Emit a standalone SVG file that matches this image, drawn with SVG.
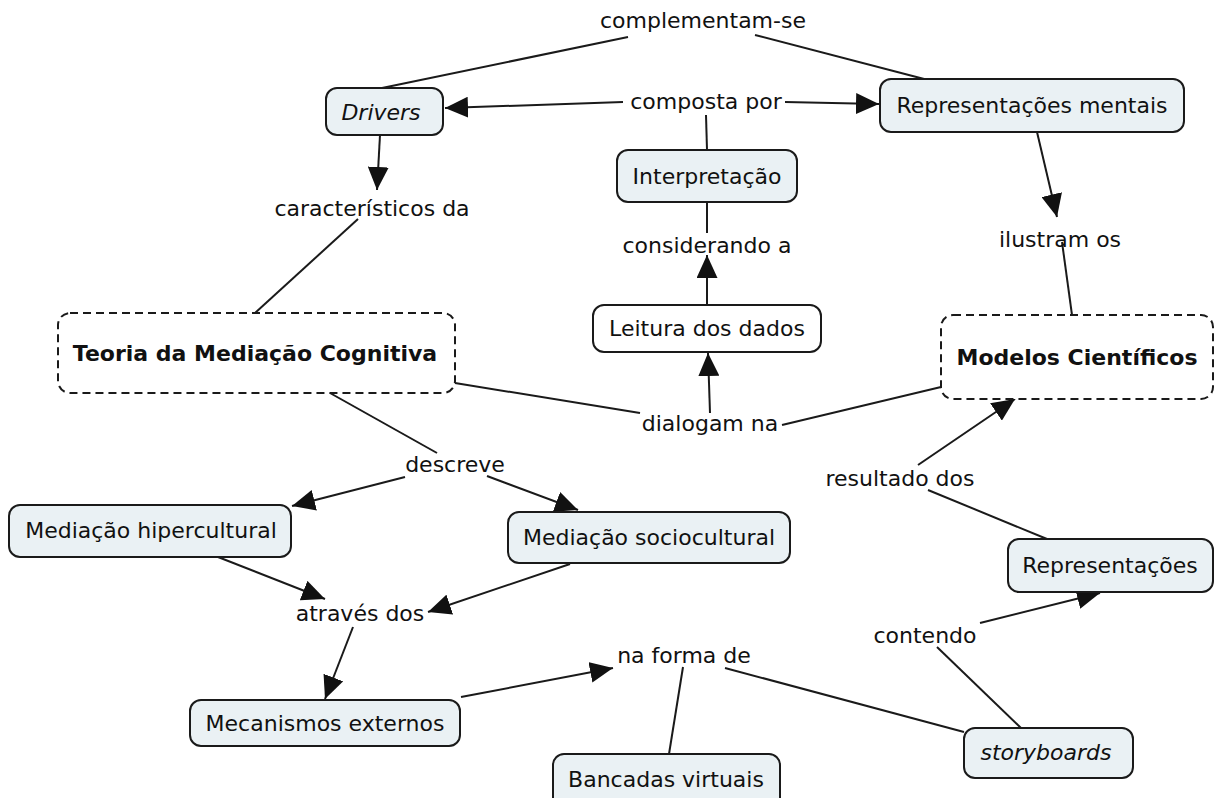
<svg xmlns="http://www.w3.org/2000/svg" width="1217" height="798" viewBox="0 0 1217 798">
  <style>
    text { font-family: "DejaVu Sans", Verdana, sans-serif; font-size: 22px; fill: #111111; text-anchor: middle; }
    .bold { font-weight: bold; font-size: 22px; }
    .it { font-style: italic; }
    .box { fill: #eaf1f4; stroke: #1a1a1a; stroke-width: 2; }
    .plain { fill: #ffffff; stroke: #1a1a1a; stroke-width: 2; }
    .dash { fill: #ffffff; stroke: #1a1a1a; stroke-width: 2; stroke-dasharray: 8 5; }
    #connectors line { stroke: #1a1a1a; stroke-width: 2; fill: none; }
    #connectors line.arr { marker-end: url(#head); }
  </style>
  <defs>
    <marker id="head" markerUnits="userSpaceOnUse" markerWidth="23" markerHeight="21" refX="23" refY="10.5" orient="auto">
      <path d="M0,0 L23,10.5 L0,21 Z" fill="#111"/>
    </marker>
  </defs>
  <rect width="1217" height="798" fill="#ffffff"/>

  <g id="connectors">
    <line x1="628" y1="37" x2="382" y2="88"/>
    <line x1="755" y1="35" x2="928" y2="80"/>
    <line class="arr" x1="623" y1="102" x2="445" y2="108"/>
    <line class="arr" x1="785" y1="102" x2="879" y2="104"/>
    <line x1="706" y1="115" x2="707" y2="150"/>
    <line class="arr" x1="380" y1="135" x2="377" y2="190"/>
    <line x1="358" y1="219" x2="255" y2="313"/>
    <line x1="707" y1="202" x2="707" y2="233"/>
    <line class="arr" x1="707" y1="305" x2="707" y2="255"/>
    <line class="arr" x1="710" y1="413" x2="708" y2="353"/>
    <line x1="455" y1="383" x2="640" y2="413"/>
    <line x1="782" y1="425" x2="941" y2="387"/>
    <line class="arr" x1="1037" y1="132" x2="1057" y2="217"/>
    <line x1="1062" y1="242" x2="1072" y2="315"/>
    <line class="arr" x1="918" y1="465" x2="1015" y2="399"/>
    <line x1="1047" y1="539" x2="928" y2="490"/>
    <line x1="330" y1="393" x2="437" y2="453"/>
    <line class="arr" x1="405" y1="477" x2="292" y2="506"/>
    <line class="arr" x1="487" y1="476" x2="578" y2="510"/>
    <line class="arr" x1="218" y1="557" x2="325" y2="599"/>
    <line class="arr" x1="570" y1="564" x2="428" y2="612"/>
    <line class="arr" x1="353" y1="627" x2="325" y2="699"/>
    <line class="arr" x1="461" y1="697" x2="613" y2="668"/>
    <line x1="683" y1="667" x2="669" y2="754"/>
    <line x1="725" y1="668" x2="964" y2="732"/>
    <line x1="1021" y1="728" x2="937" y2="647"/>
    <line class="arr" x1="980" y1="623" x2="1100" y2="593"/>
  </g>

  <g id="labels">
    <text x="703" y="28">complementam-se</text>
    <text x="706" y="109">composta por</text>
    <text x="372" y="216">característicos da</text>
    <text x="707" y="253">considerando a</text>
    <text x="1060" y="247">ilustram os</text>
    <text x="710" y="431">dialogam na</text>
    <text x="455" y="472">descreve</text>
    <text x="900" y="486">resultado dos</text>
    <text x="360" y="621">através dos</text>
    <text x="684" y="663">na forma de</text>
    <text x="925" y="643">contendo</text>
  </g>

  <g id="drivers">
    <rect class="box" x="326" y="88" width="117" height="47" rx="11"/>
    <text class="it" x="381" y="120">Drivers</text>
  </g>
  <g id="representacoes-mentais">
    <rect class="box" x="880" y="79" width="304" height="53" rx="11"/>
    <text x="1032" y="113">Representações mentais</text>
  </g>
  <g id="interpretacao">
    <rect class="box" x="617" y="150" width="180" height="52" rx="11"/>
    <text x="707" y="184">Interpretação</text>
  </g>
  <g id="leitura-dos-dados">
    <rect class="plain" x="593" y="305" width="228" height="47" rx="11"/>
    <text x="707" y="336">Leitura dos dados</text>
  </g>
  <g id="teoria">
    <rect class="dash" x="58" y="313" width="397" height="80" rx="12"/>
    <text class="bold" x="255" y="361">Teoria da Mediação Cognitiva</text>
  </g>
  <g id="modelos">
    <rect class="dash" x="941" y="315" width="272" height="84" rx="12"/>
    <text class="bold" x="1077" y="365">Modelos Científicos</text>
  </g>
  <g id="mediacao-hipercultural">
    <rect class="box" x="9" y="505" width="282" height="52" rx="11"/>
    <text x="151" y="538">Mediação hipercultural</text>
  </g>
  <g id="mediacao-sociocultural">
    <rect class="box" x="508" y="512" width="282" height="51" rx="11"/>
    <text x="649" y="545">Mediação sociocultural</text>
  </g>
  <g id="representacoes">
    <rect class="box" x="1008" y="539" width="205" height="53" rx="11"/>
    <text x="1110" y="573">Representações</text>
  </g>
  <g id="mecanismos-externos">
    <rect class="box" x="190" y="700" width="270" height="46" rx="11"/>
    <text x="325" y="731">Mecanismos externos</text>
  </g>
  <g id="storyboards">
    <rect class="box" x="964" y="728" width="169" height="50" rx="11"/>
    <text class="it" x="1046" y="760">storyboards</text>
  </g>
  <g id="bancadas-virtuais">
    <rect class="box" x="553" y="754" width="227" height="56" rx="11"/>
    <text x="666" y="787">Bancadas virtuais</text>
  </g>
</svg>
